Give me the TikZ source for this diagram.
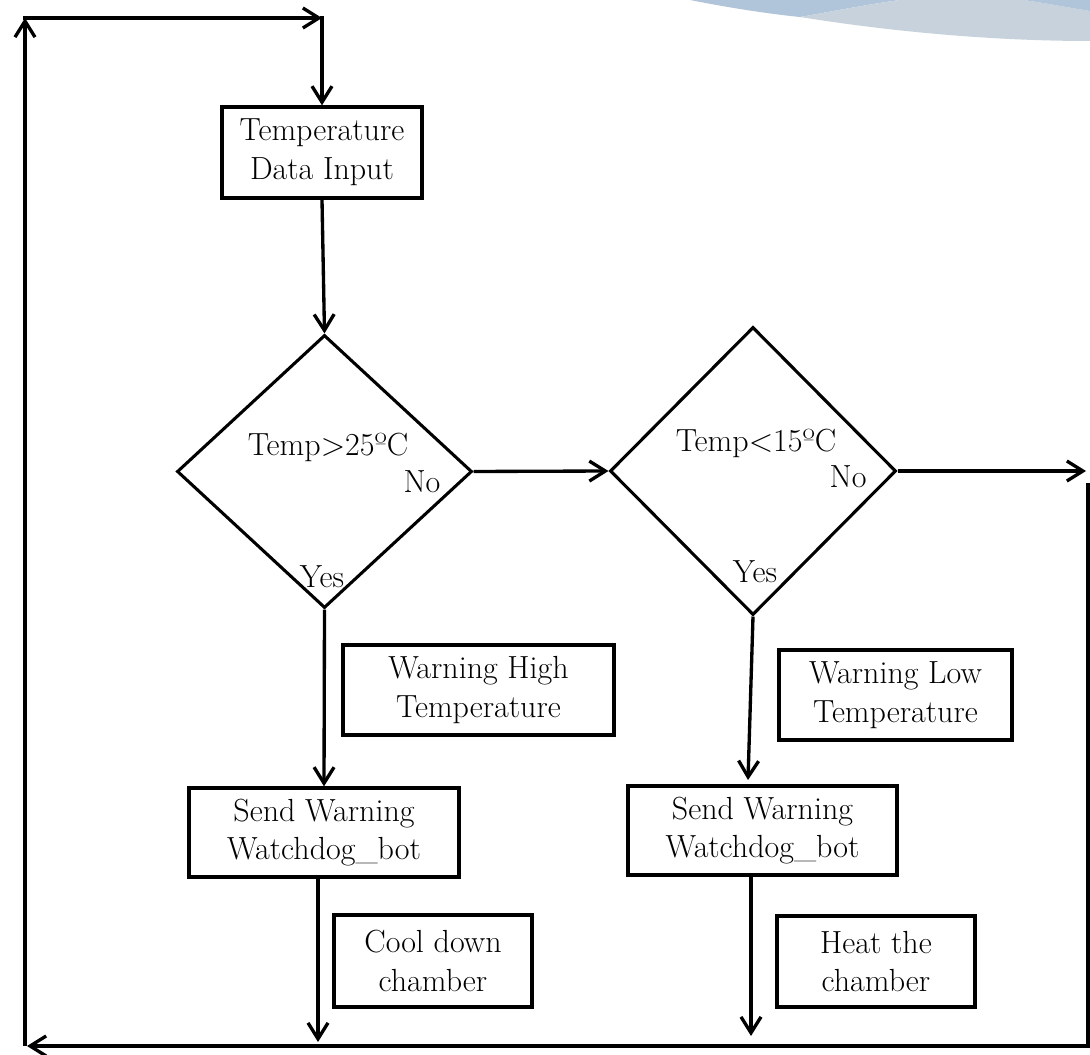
\documentclass[tikz,border=0pt]{standalone}
\usepackage{fontspec}
\usetikzlibrary{arrows.meta,shapes.geometric}
\definecolor{swdark}{HTML}{B0C4DA}
\definecolor{swlight}{HTML}{C7D2DC}
\tikzset{
  box/.style={draw=black,line width=2.5pt,inner sep=0pt,align=center,font=\fontsize{24}{29}\selectfont},
  dec/.style={draw=black,line width=2.3pt,shape=diamond,inner sep=0pt},
  lbl/.style={inner sep=0pt,font=\fontsize{24}{29}\selectfont},
  conn/.style={line width=2.5pt,-{Straight Barb[length=12pt,width=15pt]}},
  plain/.style={line width=2.5pt}
}
\begin{document}
\begin{tikzpicture}[x=0.75pt,y=-0.75pt]
\useasboundingbox (0,0) rectangle (1090,1055);
% decorative swoosh
\fill[swdark] (690,0) .. controls (730,8) and (770,14) .. (800,17) .. controls (840,10) and (870,4) .. (900,0) -- cycle;
\fill[swlight] (800,17) .. controls (900,33) and (1000,41) .. (1090,41) -- (1090,11) .. controls (1065,7) and (1045,3) .. (1023,0) -- (900,0) .. controls (870,4) and (840,10) .. (800,17) -- cycle;
\fill[swdark] (1023,0) .. controls (1045,3) and (1065,7) .. (1090,11) -- (1090,0) -- cycle;

% nodes
\node[box,minimum width=150pt,minimum height=68.25pt] (in) at (322,152.5) {Temperature\\Data Input};
\node[dec,minimum width=221.25pt,minimum height=204.75pt] (d1) at (324.5,471.5) {};
\node[dec,minimum width=214.5pt,minimum height=216pt] (d2) at (753,471) {};
\node[lbl] (t1) at (328,447) {Temp>25ºC};
\node[lbl] (n1) at (422,482) {No};
\node[lbl] (y1) at (322,577) {Yes};
\node[lbl] (t2) at (756,443) {Temp<15ºC};
\node[lbl] (n2) at (848,477) {No};
\node[lbl] (y2) at (755,572) {Yes};
\node[box,minimum width=203.25pt,minimum height=67.5pt] (wh) at (478.5,690) {Warning High\\Temperature};
\node[box,minimum width=174.75pt,minimum height=67.5pt] (wl) at (895.5,695) {Warning Low\\Temperature};
\node[box,minimum width=202.5pt,minimum height=66.75pt] (sw1) at (324,832.5) {Send Warning\\Watchdog\_bot};
\node[box,minimum width=201.75pt,minimum height=66.75pt] (sw2) at (762.5,830.5) {Send Warning\\Watchdog\_bot};
\node[box,minimum width=148.5pt,minimum height=69pt] (cd) at (433,961) {Cool down\\chamber};
\node[box,minimum width=148.5pt,minimum height=68.25pt] (ht) at (876,961.5) {Heat the\\chamber};

% coordinates
\coordinate (BL) at (25,1046);
\coordinate (TL) at (25,18);
\coordinate (TM) at (322,18);
\coordinate (R1) at (1086,471);
\coordinate (R2) at (1088,483);
\coordinate (BR) at (1088,1046);
\coordinate (BE) at (27,1046);
\coordinate (e1) at (318,1042);
\coordinate (a2) at (748,780);
\coordinate (e2) at (751,1036);

% connectors
\draw[conn] (BL) -- (TL);
\draw[conn] ([xshift=-1.25pt]TL) -- (TM);
\draw[conn] ([yshift=1.25pt]TM) -- (in.north);
\draw[conn] (in.south) -- (d1.north);
\draw[conn] (d1.east) -- (d2.west);
\draw[conn] (d2.east) -- (R1);
\draw[plain] (R2) -- (BR);
\draw[conn] ([xshift=1.25pt]BR) -- (BE);
\draw[conn] (d1.south) -- (sw1.north);
\draw[conn] (sw1.south -| e1) -- (e1);
\draw[conn] (d2.south) -- (a2);
\draw[conn] (sw2.south -| e2) -- (e2);
\end{tikzpicture}
\end{document}
